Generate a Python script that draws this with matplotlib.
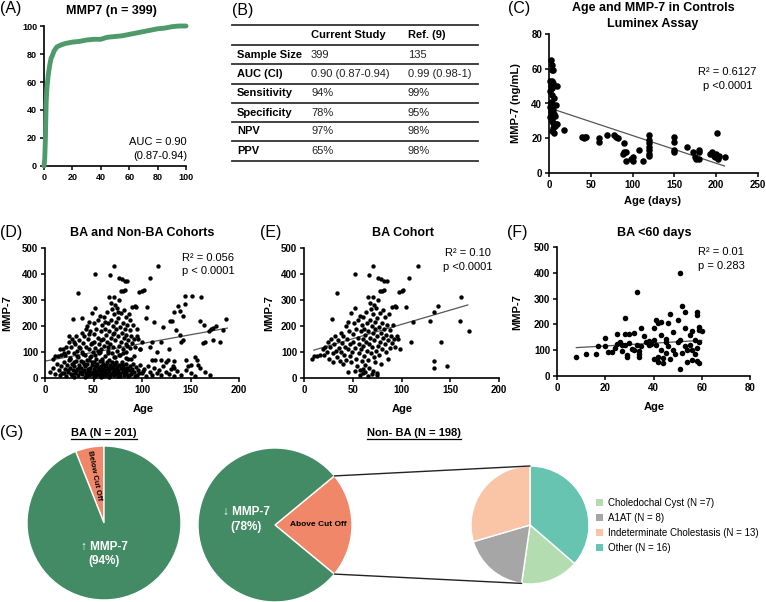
import numpy as np
import matplotlib
matplotlib.use('Agg')
import matplotlib.pyplot as plt
from matplotlib.patches import ConnectionPatch, Patch
from matplotlib.lines import Line2D

plt.rcParams['font.family'] = ['Liberation Sans', 'DejaVu Sans']

# ---------------- DATA ----------------
# (A) ROC curve
roc_fpr = [0, 0.5, 1, 1.5, 2, 3, 4, 5, 6, 7, 9, 12, 15, 20, 25, 30, 35, 40, 43, 45, 50, 55, 60, 65, 70, 75, 80, 85, 90, 95, 100]
roc_tpr = [0, 5, 20, 45, 55, 65, 72, 77, 79, 82, 85, 86.5, 87.5, 88.5, 89, 90, 90.5, 90.5, 91.5, 92, 92.5, 93, 94, 95, 96, 97, 98, 98.5, 99.5, 100, 100]

# (B) table
tbl_header = ['Current Study', 'Ref. (9)']
tbl_rows = ['Sample Size', 'AUC (CI)', 'Sensitivity', 'Specificity', 'NPV', 'PPV']
tbl_current = ['399', '0.90 (0.87-0.94)', '94%', '78%', '97%', '65%']
tbl_ref = ['135', '0.99 (0.98-1)', '99%', '95%', '98%', '98%']

# (C) controls, Luminex
c_age = [2, 3, 4, 5, 1, 3, 5, 2, 4, 10, 1, 3, 6, 2, 4, 8, 1, 3, 5, 2, 6, 1, 4, 7, 3, 5, 8, 10, 5, 4, 6, 2, 7,
         18, 40, 42, 43, 44, 60, 60, 69, 78, 80, 82, 88, 90, 90, 92, 92, 98, 100, 100, 108, 113,
         120, 120, 120, 120, 120, 120, 120, 150, 150, 150, 150, 165, 172, 175, 180, 180, 180, 176,
         193, 195, 197, 198, 200, 201, 202, 203, 210]
c_mmp7 = [65, 62, 59, 59, 53, 53, 52, 50, 49, 50, 47, 45, 43, 41, 40, 39, 38, 37, 36, 35, 34, 32, 31, 33, 30, 29, 28, 28, 26, 24, 23, 39, 27,
          25, 21, 20, 21, 21, 20, 18, 22, 22, 21, 20, 11, 17, 12, 7, 12, 8, 7, 9, 13, 7,
          22, 19, 17, 15, 13, 11, 10, 21, 18, 13, 12, 15, 12, 9, 13, 12, 8, 8,
          11, 12, 10, 9, 11, 23, 8, 10, 9]
c_fit_x = [0, 210]
c_fit_y = [37.5, 4]

# (E) BA cohort
ba_age = [8, 10, 13, 16, 19, 21, 22, 24, 25, 26, 27, 28, 29, 30, 30, 31, 32, 33, 34, 34, 35, 36, 37, 38, 38, 39, 40, 40,
          41, 42, 43, 43, 44, 45, 45, 46, 47, 47, 48, 48, 49, 50, 50, 51, 52, 52, 52, 53, 53, 54, 55, 55, 56, 56, 57, 57,
          58, 58, 59, 59, 60, 60, 61, 61, 62, 62, 63, 63, 64, 64, 65, 65, 66, 66, 66, 67, 67, 67, 68, 68, 68, 69, 69,
          70, 70, 70, 71, 71, 71, 71, 72, 72, 72, 73, 73, 73, 74, 74, 75, 75, 75, 76, 76, 76, 77, 77, 78, 78, 78, 79, 79, 79,
          80, 80, 80, 81, 81, 82, 82, 82, 83, 83, 84, 84, 85, 85, 86, 86, 87, 88, 88, 89, 90, 90, 91, 92, 93, 93, 94, 95,
          96, 97, 98, 100, 102, 105, 108, 110, 112, 117, 129, 133, 133, 133, 137, 140, 147, 160, 161, 169,
          52, 71, 60, 45, 63, 75, 57, 66]
ba_mmp7 = [75, 83, 86, 87, 110, 90, 118, 100, 140, 75, 120, 150, 227, 95, 60, 130, 160, 105, 326, 80, 145, 115, 65, 175, 100, 135, 55, 160,
           90, 120, 200, 70, 150, 110, 215, 180, 85, 130, 250, 60, 100, 170, 140, 210, 400, 270, 115, 75, 190, 45, 155, 225, 130, 95, 240, 30,
           180, 110, 65, 205, 150, 20, 125, 235, 85, 190, 50, 165, 140, 255, 105, 210, 310, 70, 180, 397, 130, 40, 225, 290, 155, 95, 265,
           200, 15, 120, 432, 310, 245, 175, 80, 145, 280, 215, 60, 190, 105, 270, 160, 230, 10, 385, 125, 300, 195, 90, 333, 250, 140, 380, 175, 55,
           336, 210, 110, 260, 155, 375, 340, 190, 130, 235, 100, 165, 372, 205, 145, 75, 245, 115, 185, 160, 135, 275, 205, 150, 277, 120, 275, 160,
           150, 331, 110, 333, 337, 274, 383, 140, 217, 430, 218, 255, 67, 40, 278, 138, 46, 220, 310, 180,
           28, 28, 35, 25, 22, 18, 12, 8]
e_fit_x = [10, 168]
e_fit_y = [107, 281]

# non-BA cohort (plotted with BA in panel D)
nonba_age = [5, 8, 10, 12, 14, 15, 17, 18, 20, 21, 22, 23, 24, 25, 26, 27, 28, 29, 30, 30, 31, 32, 33, 34, 35, 36, 37, 38, 39, 40,
             41, 41, 42, 43, 44, 45, 45, 46, 47, 48, 49, 50, 50, 51, 52, 53, 54, 55, 55, 56, 57, 58, 58, 59, 60, 60, 61, 62, 62, 63,
             64, 64, 65, 66, 66, 67, 68, 68, 69, 70, 70, 71, 72, 72, 73, 74, 75, 75, 76, 77, 78, 79, 80, 80, 81, 82, 83, 84, 85, 86,
             87, 88, 89, 90, 91, 92, 94, 95, 96, 98, 100, 102, 104, 106, 108, 110, 112, 115, 118, 120, 122, 125, 128, 130, 133, 136,
             140, 145, 150, 155, 160, 165, 170,
             15, 20, 25, 30, 35, 38, 42, 45, 48, 55, 58, 62, 65, 70, 75, 80, 85, 88, 92, 95, 98, 100, 104, 108, 115, 120, 122, 128,
             131, 135, 139, 142, 142, 144, 144, 152, 155, 158, 164, 165, 173, 173, 180, 187, 110, 125, 150, 176, 183, 113, 120, 127,
             132, 145, 157, 139, 171, 163,
             20, 24, 28, 32, 35, 38, 42, 44, 47, 50, 53, 56, 58, 61, 64, 67, 69, 72, 74, 77, 79, 82, 84, 87, 90, 93, 97, 101,
             26, 33, 39, 46, 52, 59, 65, 71, 76, 83, 89, 57]
nonba_mmp7 = [25, 40, 15, 55, 30, 10, 45, 20, 60, 35, 8, 50, 25, 70, 40, 15, 55, 30, 5, 45, 20, 65, 35, 10, 50, 25, 40, 15, 60, 30,
              5, 45, 20, 55, 35, 10, 70, 40, 25, 50, 15, 35, 60, 5, 45, 25, 55, 15, 40, 30, 65, 20, 45, 8, 35, 55, 25, 12, 45, 30,
              60, 18, 40, 5, 28, 50, 15, 38, 60, 25, 45, 10, 35, 55, 20, 42, 8, 30, 50, 18, 38, 62, 25, 45, 12, 33, 52, 20, 40, 8,
              30, 48, 15, 35, 55, 22, 42, 10, 30, 50, 18, 35, 8, 45, 25, 12, 38, 20, 30, 10, 45, 25, 15, 35, 8, 28,
              12, 30, 18, 8, 40, 22, 10,
              110, 95, 160, 140, 120, 230, 190, 170, 135, 105, 145, 215, 120, 170, 255, 95, 125, 225, 85, 190, 110, 140, 230, 120, 100, 140, 197, 110,
              219, 185, 258, 240, 147, 284, 317, 317, 80, 50, 204, 138, 147, 193, 140, 226, 70, 60, 50, 200, 185, 70, 68, 70,
              45, 70, 70, 165, 187, 134,
              18, 32, 12, 28, 40, 22, 8, 30, 16, 26, 12, 36, 5, 22, 30, 10, 40, 18, 28, 6, 34, 16, 26, 12, 22, 8, 20, 28,
              78, 85, 92, 80, 88, 75, 95, 82, 90, 78, 72, 100]
d_fit_x = [0, 188]
d_fit_y = [65, 192]

# (F) BA < 60 days
f_age = [8, 12, 16, 17, 20, 20, 21, 23, 25, 25, 26, 27, 27, 28, 28, 28, 29, 29, 30, 30, 31, 32, 33, 33, 34, 34, 34, 35, 35, 37,
         38, 38, 39, 40, 40, 40, 41, 41, 42, 42, 42, 43, 43, 43, 44, 44, 45, 45, 46, 47, 47, 48, 48, 49, 50, 50, 51, 51, 51, 52,
         52, 53, 53, 53, 54, 54, 55, 55, 56, 56, 56, 57, 57, 58, 58, 58, 58, 59, 59, 59, 59, 60, 46, 45, 36, 24, 32]
f_mmp7 = [73, 85, 85, 118, 146, 118, 93, 92, 162, 125, 130, 120, 95, 226, 162, 120, 80, 72, 128, 163, 105, 100, 326, 120, 97, 75, 85, 185, 118, 130,
          135, 120, 125, 185, 140, 65, 218, 120, 205, 75, 55, 210, 100, 160, 70, 50, 130, 90, 115, 242, 65, 100, 170, 85, 218, 130, 400, 27, 140, 272,
          90, 248, 185, 115, 100, 55, 160, 120, 62, 175, 100, 140, 85, 248, 57, 110, 235, 180, 52, 190, 130, 175, 205, 145, 155, 110, 165]
f_fit_x = [8, 60]
f_fit_y = [110, 138]

# (G) pies
ba_labels = ['Below Cut Off', '\u2191 MMP-7']
ba_pct = [6, 94]
nonba_labels = ['Above Cut Off', '\u2193 MMP-7']
nonba_pct = [22, 78]
sub_labels = ['Other (N = 16)', 'Choledochal Cyst (N =7)', 'A1AT (N = 8)', 'Indeterminate Cholestasis (N = 13)']
sub_counts = [16, 7, 8, 13]
legend_order = [1, 2, 3, 0]

GREEN = '#428B64'
SALMON = '#F08769'
ROC_GREEN = '#4E9A6B'
sub_colors = ['#66C4B0', '#B3DDB0', '#A6A6A6', '#F9C5A6']

# ---------------- FIGURE ----------------
W, H = 766, 602
fig = plt.figure(figsize=(W / 100, H / 100), dpi=100)


def fx(x):
    return x / W


def fy(y):
    return 1 - y / H


def add_ax(x0, x1, y0, y1):
    return fig.add_axes([x0 / W, 1 - y1 / H, (x1 - x0) / W, (y1 - y0) / H])


def txt(x, y, s, **kw):
    kw.setdefault('ha', 'center')
    kw.setdefault('va', 'center')
    return fig.text(fx(x), fy(y), s, **kw)


def style(ax, fs=7):
    for s in ['top', 'right']:
        ax.spines[s].set_visible(False)
    for s in ['left', 'bottom']:
        ax.spines[s].set_linewidth(1.2)
    ax.tick_params(direction='out', length=3, width=1.1, labelsize=fs, pad=2)
    for lab in ax.get_xticklabels() + ax.get_yticklabels():
        lab.set_fontweight('bold')


# panel labels
for lab, x, y in [('(A)', 0, 9), ('(B)', 232, 10), ('(C)', 508, 9), ('(D)', 0, 232),
                  ('(E)', 260, 232), ('(F)', 507, 232), ('(G)', 0, 432)]:
    txt(x, y, lab, ha='left', fontsize=11.5)

# ---- (A)
axA = add_ax(44, 186, 26, 166)
axA.plot(roc_fpr, roc_tpr, color=ROC_GREEN, lw=3.5, solid_capstyle='round', clip_on=False, zorder=3)
axA.set_xlim(0, 100)
axA.set_ylim(0, 100)
axA.set_xticks(range(0, 101, 20))
axA.set_yticks(range(0, 101, 20))
style(axA, fs=6.5)
txt(111, 11, 'MMP7 (n = 399)', fontsize=9, fontweight='bold')
txt(187, 142, 'AUC = 0.90', ha='right', fontsize=8)
txt(187, 156, '(0.87-0.94)', ha='right', fontsize=8)

# ---- (B) table
line_ys = [25, 45, 64, 84, 103, 122, 141, 161]
for ly in line_ys:
    fig.add_artist(Line2D([fx(232), fx(478)], [fy(ly), fy(ly)], color='#333333', lw=1.3))
col_x = [237, 311, 408]
txt(col_x[1], 35, tbl_header[0], ha='left', fontsize=8, fontweight='bold')
txt(col_x[2], 35, tbl_header[1], ha='left', fontsize=8, fontweight='bold')
for i, (r, c, rf) in enumerate(zip(tbl_rows, tbl_current, tbl_ref)):
    yc = (line_ys[i + 1] + line_ys[i + 2]) / 2
    txt(col_x[0], yc, r, ha='left', fontsize=8, fontweight='bold')
    txt(col_x[1], yc, c, ha='left', fontsize=8, color='#222222')
    txt(col_x[2], yc, rf, ha='left', fontsize=8, color='#222222')

# ---- (C)
axC = add_ax(549, 758, 34, 173)
axC.scatter(c_age, c_mmp7, s=22, color='black', clip_on=False, zorder=3, linewidths=0)
axC.plot(c_fit_x, c_fit_y, color='#555555', lw=0.9)
axC.set_xlim(0, 250)
axC.set_ylim(0, 80)
axC.set_xticks(range(0, 251, 50))
axC.set_yticks(range(0, 81, 20))
style(axC)
txt(653, 8, 'Age and MMP-7 in Controls', fontsize=9, fontweight='bold')
txt(653, 24, 'Luminex Assay', fontsize=9, fontweight='bold')
txt(727, 72, 'R\u00b2 = 0.6127', fontsize=8)
txt(728, 86, 'p <0.0001', fontsize=8)
txt(516, 103, 'MMP-7 (ng/mL)', rotation=90, fontsize=8, fontweight='bold')
txt(653, 201, 'Age (days)', fontsize=8, fontweight='bold')

# ---- (D)
axD = add_ax(45, 239, 248, 378)
axD.scatter(ba_age + nonba_age, ba_mmp7 + nonba_mmp7, s=10, color='black', clip_on=False, zorder=3, linewidths=0)
axD.plot(d_fit_x, d_fit_y, color='#555555', lw=0.9)
axD.set_xlim(0, 200)
axD.set_ylim(0, 500)
axD.set_xticks(range(0, 201, 50))
axD.set_yticks(range(0, 501, 100))
style(axD)
txt(142, 233, 'BA and Non-BA Cohorts', fontsize=9, fontweight='bold')
txt(182, 258, 'R\u00b2 = 0.056', ha='left', fontsize=8)
txt(182, 271, 'p < 0.0001', ha='left', fontsize=8)
txt(7, 313, 'MMP-7', rotation=90, fontsize=8, fontweight='bold')
txt(143, 409, 'Age', fontsize=8, fontweight='bold')

# ---- (E)
axE = add_ax(304, 499, 248, 378)
axE.scatter(ba_age, ba_mmp7, s=10, color='black', clip_on=False, zorder=3, linewidths=0)
axE.plot(e_fit_x, e_fit_y, color='#555555', lw=0.9)
axE.set_xlim(0, 200)
axE.set_ylim(0, 500)
axE.set_xticks(range(0, 201, 50))
axE.set_yticks(range(0, 501, 100))
style(axE)
txt(403, 233, 'BA Cohort', fontsize=9, fontweight='bold')
txt(468, 253, 'R\u00b2 = 0.10', fontsize=8)
txt(468, 267, 'p <0.0001', fontsize=8)
txt(269, 313, 'MMP-7', rotation=90, fontsize=8, fontweight='bold')
txt(402, 409, 'Age', fontsize=8, fontweight='bold')

# ---- (F)
axF = add_ax(557, 750, 247, 376)
axF.scatter(f_age, f_mmp7, s=16, color='black', clip_on=False, zorder=3, linewidths=0)
axF.plot(f_fit_x, f_fit_y, color='#555555', lw=0.9)
axF.set_xlim(0, 80)
axF.set_ylim(0, 500)
axF.set_xticks(range(0, 81, 20))
axF.set_yticks(range(0, 501, 100))
style(axF)
txt(654, 233, 'BA <60 days', fontsize=9, fontweight='bold')
txt(698, 252, 'R\u00b2 = 0.01', ha='left', fontsize=8)
txt(698, 266, 'p = 0.283', ha='left', fontsize=8)
txt(517, 312, 'MMP-7', rotation=90, fontsize=8, fontweight='bold')
txt(654, 407, 'Age', fontsize=8, fontweight='bold')

# ---- (G) pies
wp = dict(edgecolor='white', linewidth=1)
axP1 = add_ax(27, 181, 446, 600)
axP1.pie(ba_pct, colors=[SALMON, GREEN], startangle=90, counterclock=True, wedgeprops=wp)
axP1.set_xlim(-1, 1); axP1.set_ylim(-1, 1)
axP1.text(-0.13, 0.62, ba_labels[0], rotation=-79, ha='center', va='center', fontsize=5.5, fontweight='bold')
axP1.text(0, -0.40, ba_labels[1] + '\n(%d%%)' % ba_pct[1], ha='center', va='center', fontsize=8.5,
          fontweight='bold', color='white', linespacing=1.3)

npct_start = -360 * nonba_pct[0] / 100 / 2
axP2 = add_ax(198, 352, 448, 602)
axP2.pie(nonba_pct, colors=[SALMON, GREEN], startangle=npct_start, counterclock=True, wedgeprops=wp)
axP2.set_xlim(-1, 1); axP2.set_ylim(-1, 1)
axP2.text(0.56, 0.01, nonba_labels[0], ha='center', va='center', fontsize=6, fontweight='bold')
axP2.text(-0.37, 0.07, nonba_labels[1] + '\n(%d%%)' % nonba_pct[1], ha='center', va='center', fontsize=8.5,
          fontweight='bold', color='white', linespacing=1.3)

axP3 = add_ax(471, 589, 466, 584)
axP3.pie(sub_counts, colors=sub_colors, startangle=90, counterclock=False, wedgeprops=wp)
axP3.set_xlim(-1, 1); axP3.set_ylim(-1, 1)

# connectors
a_top = np.deg2rad(-npct_start)
a_bot = np.deg2rad(npct_start)
cum = np.cumsum(sub_counts) / np.sum(sub_counts)
b_bot = np.deg2rad(90 - 360 * cum[1])
for (xa, ya), (xb, yb) in [((np.cos(a_top), np.sin(a_top)), (0, 1)),
                           ((np.cos(a_bot), np.sin(a_bot)), (np.cos(b_bot), np.sin(b_bot)))]:
    cp = ConnectionPatch(xyA=(xa, ya), coordsA=axP2.transData, xyB=(xb, yb), coordsB=axP3.transData,
                         color='#222222', lw=1.0)
    fig.add_artist(cp)

handles = [Patch(facecolor=sub_colors[i], edgecolor='none') for i in legend_order]
labels = [sub_labels[i] for i in legend_order]
fig.legend(handles, labels, loc='upper left', bbox_to_anchor=(fx(596), fy(498)), frameon=False, fontsize=7,
           handlelength=0.7, handleheight=0.7, handletextpad=0.5, labelspacing=0.5, borderpad=0, borderaxespad=0)

# underlined pie titles
t1 = txt(104, 433, 'BA (N = 201)', fontsize=8, fontweight='bold')
t2 = txt(414, 433, 'Non- BA (N = 198)', fontsize=8, fontweight='bold')
fig.canvas.draw()
r = fig.canvas.get_renderer()
inv = fig.transFigure.inverted()
for t in (t1, t2):
    bb = t.get_window_extent(r)
    (x0, y0), (x1, y1) = inv.transform([[bb.x0, bb.y0], [bb.x1, bb.y1]])
    fig.add_artist(Line2D([x0, x1], [y0 - 0.001, y0 - 0.001], color='black', lw=0.9))

fig.savefig('out.png', dpi=100)
